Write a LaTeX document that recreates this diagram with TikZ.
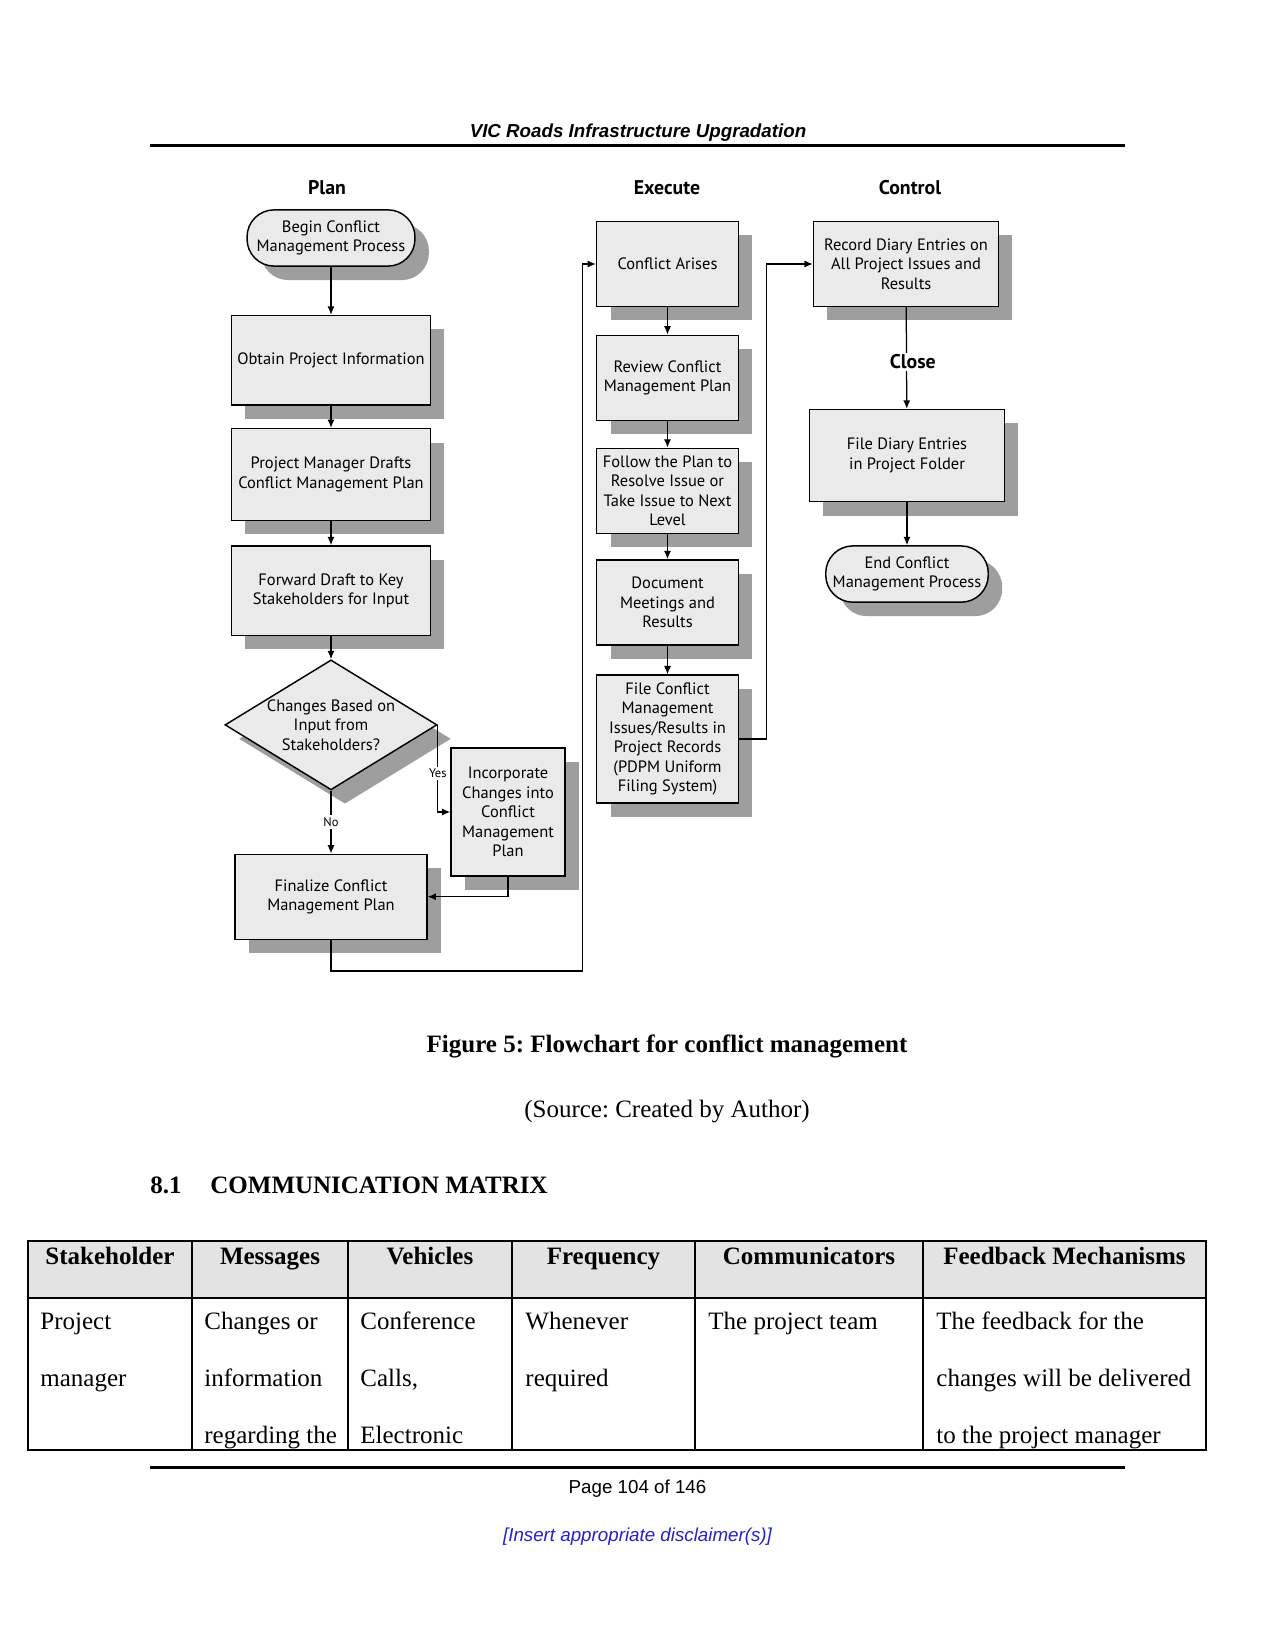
\documentclass[tikz,border=0pt]{standalone}
\usepackage{fontspec}
\setmainfont{Liberation Serif}
\setsansfont{Liberation Sans}
\newfontfamily\chartfont{PT Sans}
\usepackage{tikz}
\usetikzlibrary{arrows.meta, positioning, shapes.geometric, shadows}

\definecolor{boxgray}{HTML}{EAEAEA}
\definecolor{shadowgray}{HTML}{9E9E9E}
\definecolor{headgray}{HTML}{E3E3E3}
\definecolor{linkblue}{HTML}{2222CC}

\frenchspacing
\begin{document}
\begin{tikzpicture}[
    x=0.48pt, y=-0.48pt,
    process/.style={rectangle, draw, line width=0.7pt, fill=boxgray,
        general shadow={fill=shadowgray, shadow xshift=6.7pt, shadow yshift=-6.7pt},
        minimum width=68pt, minimum height=40.8pt, inner sep=1.5pt, align=center,
        font=\chartfont\fontsize{7.9}{9.3}\selectfont},
    terminal/.style={process, rounded corners=13pt, minimum width=80.6pt, minimum height=27pt, inner sep=1pt},
    decision/.style={process, diamond, aspect=1.63, inner sep=-1pt, minimum width=101.8pt, minimum height=62.4pt},
    phase/.style={font=\chartfont\bfseries\fontsize{9.5}{11}\selectfont, inner sep=1pt},
    tag/.style={fill=white, inner sep=1pt, font=\chartfont\fontsize{6}{7}\selectfont},
    arrow/.style={-{Latex[length=4pt, width=3.4pt]}, line width=0.6pt},
    pagetext/.style={inner sep=0pt, anchor=base},
    headcell/.style={pagetext, font=\bfseries\fontsize{12}{14}\selectfont},
    bodycell/.style={pagetext, anchor=base west, font=\fontsize{12}{14}\selectfont},
]
\fill[white] (0,0) rectangle (1275,1650);
\useasboundingbox (0,0) rectangle (1275,1650);

% Page header
\node[pagetext, font=\sffamily\bfseries\itshape\fontsize{9}{11}\selectfont] (runhead) at (638,138) {VIC Roads Infrastructure Upgradation};
\draw[line width=1.9pt] (150,145.5) -- (1125,145.5);

% Column heads
\node[phase] (plan) at (327,188) {Plan};
\node[phase] (execute) at (667,188) {Execute};
\node[phase] (control) at (910,188) {Control};

% Plan column
\node[terminal] (begin) at (331,238) {Begin Conflict\\Management Process};
\node[process, minimum width=95.5pt, minimum height=43pt, below=23pt of begin] (obtain) {Obtain Project Information};
\node[process, minimum width=95.5pt, minimum height=44pt, below=10.6pt of obtain] (drafts) {Project Manager Drafts\\Conflict Management Plan};
\node[process, minimum width=95.5pt, minimum height=43pt, below=11.6pt of drafts] (forward) {Forward Draft to Key\\Stakeholders for Input};
\node[decision, below=11pt of forward] (dec) {Changes Based on\\Input from\\Stakeholders?};
\node[process, minimum width=92pt, below=30.2pt of dec] (final) {Finalize Conflict\\Management Plan};
\node[process, minimum width=54.7pt, minimum height=61.4pt] (incorp) at (508,812) {Incorporate\\Changes into\\Conflict\\Management\\Plan};

% Execute column
\node[process] (arises) at (667.5,264) {Conflict Arises};
\node[process, below=13.1pt of arises] (review) {Review Conflict\\Management Plan};
\node[process, below=12.8pt of review] (follow) {Follow the Plan to\\Resolve Issue or\\Take Issue to Next\\Level};
\node[process, below=12pt of follow] (document) {Document\\Meetings and\\Results};
\node[process, minimum height=61.4pt, below=13.8pt of document] (filecm) {File Conflict\\Management\\Issues/Results in\\Project Records\\(PDPM Uniform\\Filing System)};

% Control column
\node[process, minimum width=88.8pt] (record) at (906,264) {Record Diary Entries on\\All Project Issues and\\Results};
\node[process, minimum width=93.6pt, minimum height=44.2pt] (fdiary) at (907,455.5) {File Diary Entries\\in Project Folder};
\node[terminal, minimum width=78pt, below=20.6pt of fdiary] (endp) {End Conflict\\Management Process};

% Loop corners
\coordinate (loopA) at (582.7,971);
\coordinate (loopB) at (766.7,737);

% Arrows
\draw[arrow] (begin) -- (obtain);
\draw[arrow] (obtain) -- (drafts);
\draw[arrow] (drafts) -- (forward);
\draw[arrow] (forward) -- (dec);
\draw[arrow] (dec) -- node[tag] (no) {No} (final);
\draw[arrow] (dec.east) |- node[tag, pos=0.28] (yes) {Yes} (incorp.west);
\draw[arrow] (incorp.south) |- (final.east);
\draw[arrow] (final.south) |- (loopA) |- (arises.west);
\draw[arrow] (arises) -- (review);
\draw[arrow] (review) -- (follow);
\draw[arrow] (follow) -- (document);
\draw[arrow] (document) -- (filecm);
\draw[arrow] (filecm.east) -- (filecm.east -| loopB) |- (record.west);
\draw[arrow] (record) -- node[phase, fill=white, xshift=3pt, pos=0.54] (close) {Close} (fdiary);
\draw[arrow] (fdiary) -- (endp);

% Captions
\node[pagetext, font=\bfseries\fontsize{12}{14}\selectfont] (caption) at (667,1052) {Figure 5: Flowchart for conflict management};
\node[pagetext, font=\fontsize{12}{14}\selectfont] (source) at (667,1117) {(Source: Created by Author)};
\node[pagetext, anchor=base west, font=\bfseries\fontsize{12}{14}\selectfont] (secnum) at (150,1193) {8.1};
\node[pagetext, anchor=base west, font=\bfseries\fontsize{12}{14}\selectfont] (sectitle) at (210,1193) {COMMUNICATION MATRIX};

% Table
\fill[headgray] (28,1241) rectangle (1206,1298);
\draw[line width=0.6pt] (28,1241) rectangle (1206,1450);
\draw[line width=0.6pt] (28,1298) -- (1206,1298);
\foreach \cx in {192,348,512,695,923}
    \draw[line width=0.6pt] (\cx,1241) -- (\cx,1450);
\foreach \cx/\txt [count=\i] in {110/Stakeholder, 270/Messages, 430/Vehicles, 603.5/Frequency, 809/Communicators, 1064.5/Feedback Mechanisms}
    \node[headcell] (head\i) at (\cx,1264) {\txt};
\foreach \cx/\row/\txt in {40/1/{Project}, 40/2/{manager},
        204/1/{Changes or}, 204/2/{information}, 204/3/{regarding the},
        360/1/{Conference}, 360/2/{Calls,}, 360/3/{Electronic},
        525/1/{Whenever}, 525/2/{required},
        708/1/{The project team},
        936/1/{The feedback for the}, 936/2/{changes will be delivered}, 936/3/{to the project manager}}
    \node[bodycell] (cell\cx-\row) at (\cx,1272+57*\row) {\txt};

% Page footer
\draw[line width=1.9pt] (150,1467.5) -- (1125,1467.5);
\node[pagetext, font=\sffamily\fontsize{9}{11}\selectfont] (pagenum) at (637.5,1493) {Page 104 of 146};
\node[pagetext, font=\sffamily\itshape\fontsize{9}{11}\selectfont, text=linkblue] (disclaimer) at (637.5,1541) {[Insert appropriate disclaimer(s)]};

\end{tikzpicture}
\end{document}
